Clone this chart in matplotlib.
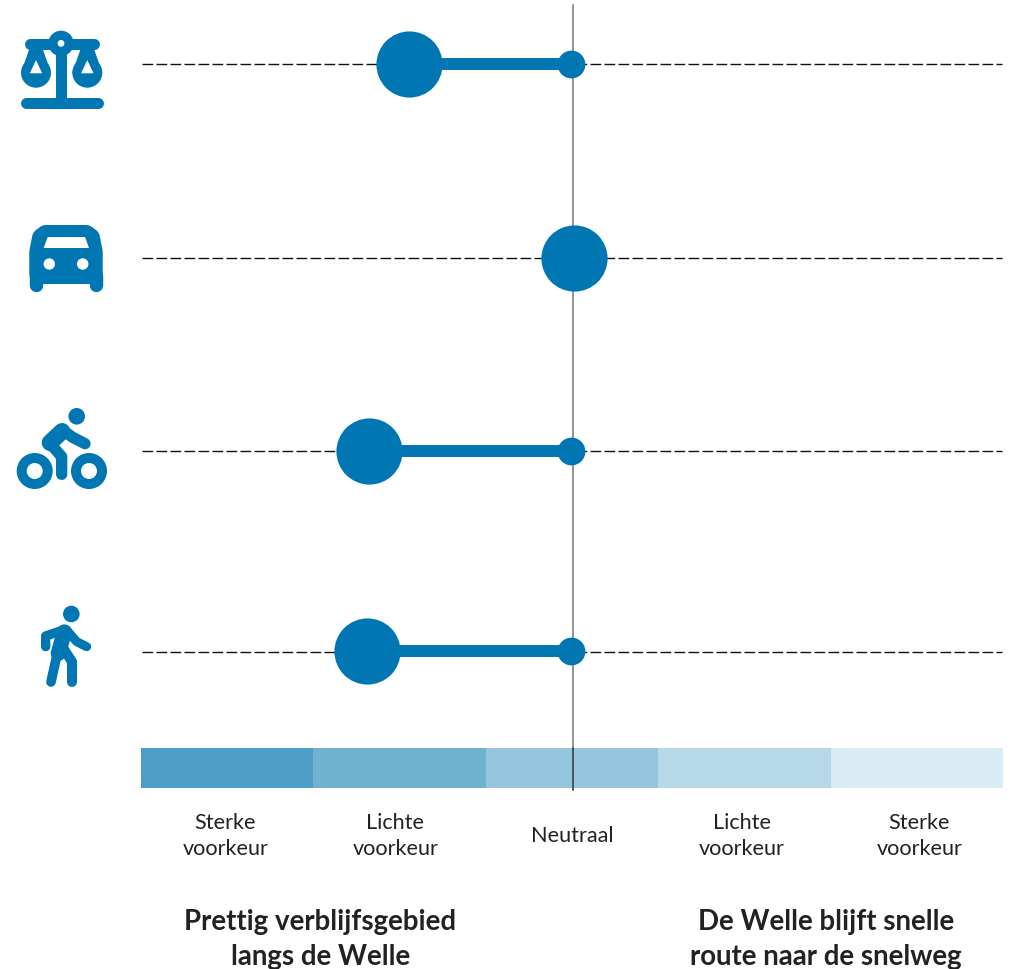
import matplotlib
matplotlib.use("Agg")
import matplotlib.pyplot as plt
from matplotlib.patches import Circle, Polygon

W, H = 1010, 969
# ---- data ----
modes = ["Rechtspraak", "Auto", "Fiets", "Voetganger"]
preference = [-0.945, 0.01, -1.175, -1.19]
neutral = 0.0
band_labels = ["Sterke\nvoorkeur", "Lichte\nvoorkeur", "Neutraal", "Lichte\nvoorkeur", "Sterke\nvoorkeur"]
band_edges = [-2.5, -1.5, -0.5, 0.5, 1.5, 2.5]
band_colors = ["#4d9ec7", "#71b2d1", "#95c5dd", "#b7d8e8", "#d9ebf4"]
side_titles = ["Prettig verblijfsgebied\nlangs de Welle", "De Welle blijft snelle\nroute naar de snelweg"]
# ---- layout (pixels / axis units) ----
label_x = [-2.01, -1.024, 0.0, 0.985, 2.015]
label_y = [836, 836, 835.5, 836, 836]
side_title_x = [-1.46, 1.473]
row_y = [64, 258, 451, 652]
dot_y = [63.7, 258, 450.7, 651]
BLUE = "#0077b3"
INK = "#222222"
FONT = ["Lato", "DejaVu Sans"]

fig = plt.figure(figsize=(W / 100, H / 100), dpi=100)
ax = fig.add_axes([0, 0, 1, 1])
unit = 172.4
origin = 572.0
ax.set_xlim((0 - origin) / unit, (W - origin) / unit)
ax.set_ylim(H, 0)
ax.axis("off")

# pixel-based overlay for the pictograms
ic = fig.add_axes([0, 0, 1, 1])
ic.set_xlim(0, W)
ic.set_ylim(H, 0)
ic.axis("off")
ic.patch.set_alpha(0)

# bands
for i, c in enumerate(band_colors):
    ax.fill_between(band_edges[i:i + 2], 748, 788, color=c, lw=0, zorder=1)
    ax.text(label_x[i], label_y[i], band_labels[i], ha="center", va="center",
            fontsize=15.6, color=INK, family=FONT, linespacing=1.42, zorder=5)

# dashed guides
for y in row_y:
    ax.plot([-2.495, 2.495], [y, y], color="#111111", lw=1.0, dashes=(7.7, 2.38), zorder=1)

# neutral line
line_x = neutral + 0.003
ax.plot([line_x, line_x], [5, 748], color="#777777", lw=1.1, zorder=2)
ax.plot([line_x, line_x], [748, 790], color="#333333", lw=1.1, zorder=2)

# dumbbells
for y, v in zip(dot_y, preference):
    if abs(v) > 0.1:
        ax.plot([v, neutral], [y, y], color=BLUE, lw=8.6, solid_capstyle="butt", zorder=3)
        ax.scatter([neutral - 0.008], [y], s=400, color=BLUE, lw=0, zorder=4)
    ax.scatter([v], [y], s=2270, color=BLUE, lw=0, zorder=4)

# side titles
for x, t in zip(side_title_x, side_titles):
    ax.text(x, 939.5, t, ha="center", va="center", fontsize=19.9, fontweight="bold",
            color=INK, family=FONT, linespacing=1.405, zorder=5)


# ---- pictograms ----
def Z(pts, oy):
    return [(a / 3, b / 3 + oy) for a, b in pts]


def poly(pts, round_px=0, color=BLUE, z=2):
    ic.add_patch(Polygon(pts, closed=True, fc=color, ec=color if round_px else "none",
                         lw=round_px * 0.72, joinstyle="round", zorder=z))


def circ(x, y, r, color=BLUE, z=2):
    ic.add_patch(Circle((x, y), r, fc=color, ec="none", zorder=z))


def limb(pts, oy, width):
    xs, ys = zip(*Z(pts, oy))
    ic.plot(xs, ys, color=BLUE, lw=width / 3 * 0.72, solid_capstyle="round",
            solid_joinstyle="round", zorder=2)


def bar(x0, x1, y, t):
    ic.plot([x0, x1], [y, y], color=BLUE, lw=t * 0.72, solid_capstyle="round", zorder=2)


# scales
bar(29.5, 93.5, 43.5, 11)
bar(25.5, 97.5, 103.3, 11)
circ(61, 43.4, 12.7)
circ(61, 43.4, 3.4, "white", 3)
ic.fill_between([55.7, 66.7], 43, 103, color=BLUE, lw=0, zorder=2)
for cx in (36, 87.3):
    poly([(cx - 6, 47), (cx + 6, 47), (cx + 15, 72.7), (cx - 15, 72.7)])
    circ(cx, 72.7, 15)
    poly([(cx, 60), (cx - 6.2, 73.3), (cx + 6.2, 73.3)], color="white", z=3)

# car
poly([(46, 235), (86, 235), (90, 238), (92.7, 252), (92.7, 274), (39.3, 274), (39.3, 252), (42, 238)], 20)
for x0 in (36, 96):
    ic.plot([x0, x0], [275, 285], color=BLUE, lw=13.4 * 0.72, solid_capstyle="round", zorder=2)
poly([(47.7, 237), (85, 237), (89, 248), (43.7, 248)], color="white", z=3)
circ(49.3, 264, 5.7, "white", 3)
circ(82.7, 264, 5.7, "white", 3)

# cyclist
circ(76.7, 416.3, 8.3)
for cx in (34.7, 89):
    circ(cx, 471, 18)
    circ(cx, 471, 8, "white", 3)
limb([(150, 158), (186, 124)], 390, 50)
limb([(150, 160), (185, 200), (185, 253)], 390, 34)
limb([(190, 122), (218, 142), (255, 161)], 390, 34)

# walker
circ(71.3, 614, 8.3)
limb([(137, 770), (137, 738), (190, 720)], 390, 28)
limb([(193, 726), (175, 790)], 390, 46)
limb([(172, 790), (153, 876)], 390, 29)
limb([(190, 775), (216, 815), (216, 876)], 390, 30)
limb([(200, 720), (230, 755), (260, 770)], 390, 27)

fig.savefig("out.png", dpi=100, facecolor="white")
